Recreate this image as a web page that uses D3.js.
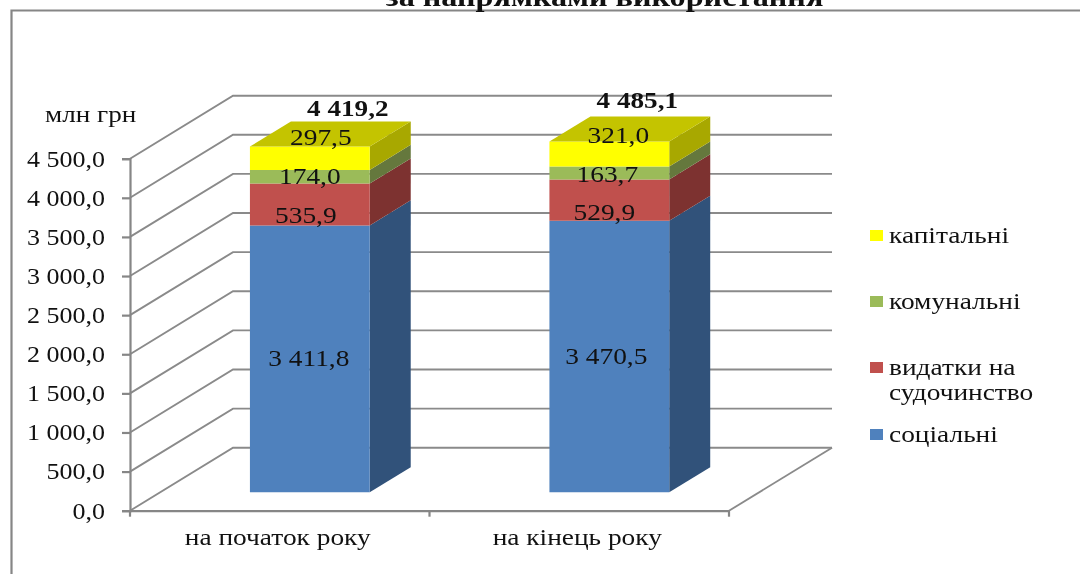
<!DOCTYPE html>
<html>
<head>
<meta charset="utf-8">
<script src="https://cdn.jsdelivr.net/npm/d3@7"></script>
<style>
  body { margin: 0; background: #fff; }
  svg { display: block; filter: blur(0.4px); }
  text { font-family: "Liberation Serif", serif; fill: #111; }
</style>
</head>
<body>
<div id="chart"></div>
<script>
// data
const categories = ["на початок року", "на кінець року"];
const seriesNames = ["соціальні", "видатки на судочинство", "комунальні", "капітальні"];
const social = [3411.8, 3470.5];
const court = [535.9, 529.9];
const communal = [174.0, 163.7];
const capital = [297.5, 321.0];
const totals = [4419.2, 4485.1];
const yTicks = [0, 500, 1000, 1500, 2000, 2500, 3000, 3500, 4000, 4500];

const width = 1080, height = 574;
const front = {left: 130, right: 729, bottom: 510.7, top: 158.7};
const wall = {dx: 103, dy: 63};   // how far the back wall is shifted from the front plane
const barDepth = [0.292, 0.69];   // bar start/end along the depth axis

const colors = {
  "соціальні": {face: "#4f81bd", side: "#31527a"},
  "видатки на судочинство": {face: "#c0504d", side: "#7d3230"},
  "комунальні": {face: "#9bbb59", side: "#65783d"},
  "капітальні": {face: "#ffff00", side: "#a8a800", top: "#c4c400"}
};

// hand placed labels in the original chart: shift from the middle of the segment
const labelShift = [
  [[-1, 0], [-4, 11], [0, 0], [11, -21]],
  [[-3, 0], [-5, 12], [-2, 1], [9, -19]]
];

const svg = d3.select("#chart").append("svg")
  .attr("width", width)
  .attr("height", height);

const x = d3.scaleBand()
  .domain(categories)
  .range([front.left, front.right])
  .paddingInner(0.6)
  .paddingOuter(0.3);

const y = d3.scaleLinear()
  .domain([0, 4500])
  .range([front.bottom, front.top]);

const locale = d3.formatLocale({decimal: ",", thousands: " ", grouping: [3], currency: ["", ""]});
const fmt = locale.format(",.1f");

// front x + depth t -> screen point
function pt(px, value, t) {
  return [px + t * wall.dx, y(value) - t * wall.dy];
}
const poly = d3.line();

// the source picture is stretched sideways, so widen the glyphs the same way
function stretch(sel, k) {
  sel.each(function() {
    d3.select(this)
      .attr("textLength", this.getComputedTextLength() * k)
      .attr("lengthAdjust", "spacingAndGlyphs");
  });
}

// outer frame, runs off the right and bottom of the picture
svg.append("path")
  .attr("d", "M11.5,575V10.5H1081")
  .attr("fill", "none")
  .attr("stroke", "#868686")
  .attr("stroke-width", 2.2);

// title, cut off by the top edge
svg.append("text")
  .attr("x", 604.5)
  .attr("y", 6)
  .attr("text-anchor", "middle")
  .attr("font-weight", "bold")
  .attr("font-size", 28)
  .attr("fill", "#000")
  .text("за напрямками використання")
  .call(stretch, 1.15);

// gridlines on side and back walls
const grid = svg.append("g")
  .attr("fill", "none")
  .attr("stroke", "#8a8a8a")
  .attr("stroke-width", 1.9);

grid.selectAll("path")
  .data(yTicks)
  .enter()
  .append("path")
  .attr("d", d => poly([pt(front.left, d, 0), pt(front.left, d, 1), pt(front.right, d, 1)]));

// right edge of the floor
grid.append("path")
  .attr("d", poly([pt(front.right, 0, 0), pt(front.right, 0, 1)]));

// axes
const yAxis = svg.append("g")
  .attr("transform", "translate(" + front.left + ",0)")
  .call(d3.axisLeft(y).tickValues(yTicks).tickFormat(fmt).tickSize(8).tickPadding(17));

const xAxis = svg.append("g")
  .attr("transform", "translate(0," + front.bottom + ")")
  .call(d3.axisBottom(x).tickSize(0).tickPadding(18).tickFormat(d => d));

xAxis.selectAll(".tick line").remove();
xAxis.selectAll("text").attr("dx", -2);

// ticks on the x axis sit between the categories
xAxis.selectAll(".sep")
  .data([front.left, (front.left + front.right) / 2, front.right])
  .enter()
  .append("line")
  .attr("x1", d => d)
  .attr("x2", d => d)
  .attr("y2", 6);

[yAxis, xAxis].forEach(a => {
  a.attr("font-family", null).attr("font-size", null);
  a.selectAll("text").attr("font-size", 23).attr("fill", "#111");
  a.selectAll("path, line").attr("stroke", "#868686").attr("stroke-width", 2.2);
});
yAxis.selectAll("text").call(stretch, 1.13);
xAxis.selectAll("text").call(stretch, 1.19);

svg.append("text")
  .attr("x", 45)
  .attr("y", 121.5)
  .attr("font-size", 23)
  .text("млн грн")
  .call(stretch, 1.18);

// stacked bars
const rows = categories.map((c, i) => ({
  category: c,
  "соціальні": social[i],
  "видатки на судочинство": court[i],
  "комунальні": communal[i],
  "капітальні": capital[i]
}));
const stacked = d3.stack().keys(seriesNames)(rows);

const bars = svg.append("g");
stacked.forEach(layer => {
  const c = colors[layer.key];
  layer.forEach(d => {
    const x0 = x(d.data.category), x1 = x0 + x.bandwidth();
    // side
    bars.append("path")
      .attr("fill", c.side)
      .attr("d", poly([pt(x1, d[0], barDepth[0]), pt(x1, d[0], barDepth[1]),
                       pt(x1, d[1], barDepth[1]), pt(x1, d[1], barDepth[0])]) + "Z");
    // front
    bars.append("path")
      .attr("fill", c.face)
      .attr("d", poly([pt(x0, d[0], barDepth[0]), pt(x1, d[0], barDepth[0]),
                       pt(x1, d[1], barDepth[0]), pt(x0, d[1], barDepth[0])]) + "Z");
    // only the last series shows a lid
    if (c.top) {
      bars.append("path")
        .attr("fill", c.top)
        .attr("d", poly([pt(x0, d[1], barDepth[0]), pt(x1, d[1], barDepth[0]),
                         pt(x1, d[1], barDepth[1]), pt(x0, d[1], barDepth[1])]) + "Z");
    }
  });
});

// value labels
stacked.forEach((layer, s) => {
  layer.forEach((d, i) => {
    const p = pt(x(d.data.category) + x.bandwidth() / 2, (d[0] + d[1]) / 2, barDepth[0]);
    svg.append("text")
      .attr("x", p[0] + labelShift[i][s][0])
      .attr("y", p[1] + labelShift[i][s][1])
      .attr("dy", "0.33em")
      .attr("text-anchor", "middle")
      .attr("font-size", 23)
      .text(fmt(d[1] - d[0]))
      .call(stretch, 1.19);
  });
});

// totals above the bars
totals.forEach((t, i) => {
  const p = pt(x(categories[i]) + x.bandwidth() / 2, t, barDepth[1]);
  svg.append("text")
    .attr("x", p[0] + (i === 0 ? -3 : -13))
    .attr("y", p[1] - 6 - (i === 0 ? 0 : 2.5))
    .attr("text-anchor", "middle")
    .attr("font-weight", "bold")
    .attr("font-size", 23)
    .attr("fill", "#000")
    .text(fmt(t))
    .call(stretch, 1.18);
});

// legend, top item is the last series
const legendItems = [
  {key: "капітальні", lines: ["капітальні"], top: 230},
  {key: "комунальні", lines: ["комунальні"], top: 296},
  {key: "видатки на судочинство", lines: ["видатки на", "судочинство"], top: 362},
  {key: "соціальні", lines: ["соціальні"], top: 429}
];
const legend = svg.append("g");
legendItems.forEach(item => {
  legend.append("rect")
    .attr("x", 870)
    .attr("y", item.top)
    .attr("width", 13)
    .attr("height", 11)
    .attr("fill", colors[item.key].face);
  item.lines.forEach((line, j) => {
    legend.append("text")
      .attr("x", 889)
      .attr("y", item.top + 12.5 + j * 25)
      .attr("font-size", 23)
      .text(line)
      .call(stretch, 1.19);
  });
});
</script>
</body>
</html>
